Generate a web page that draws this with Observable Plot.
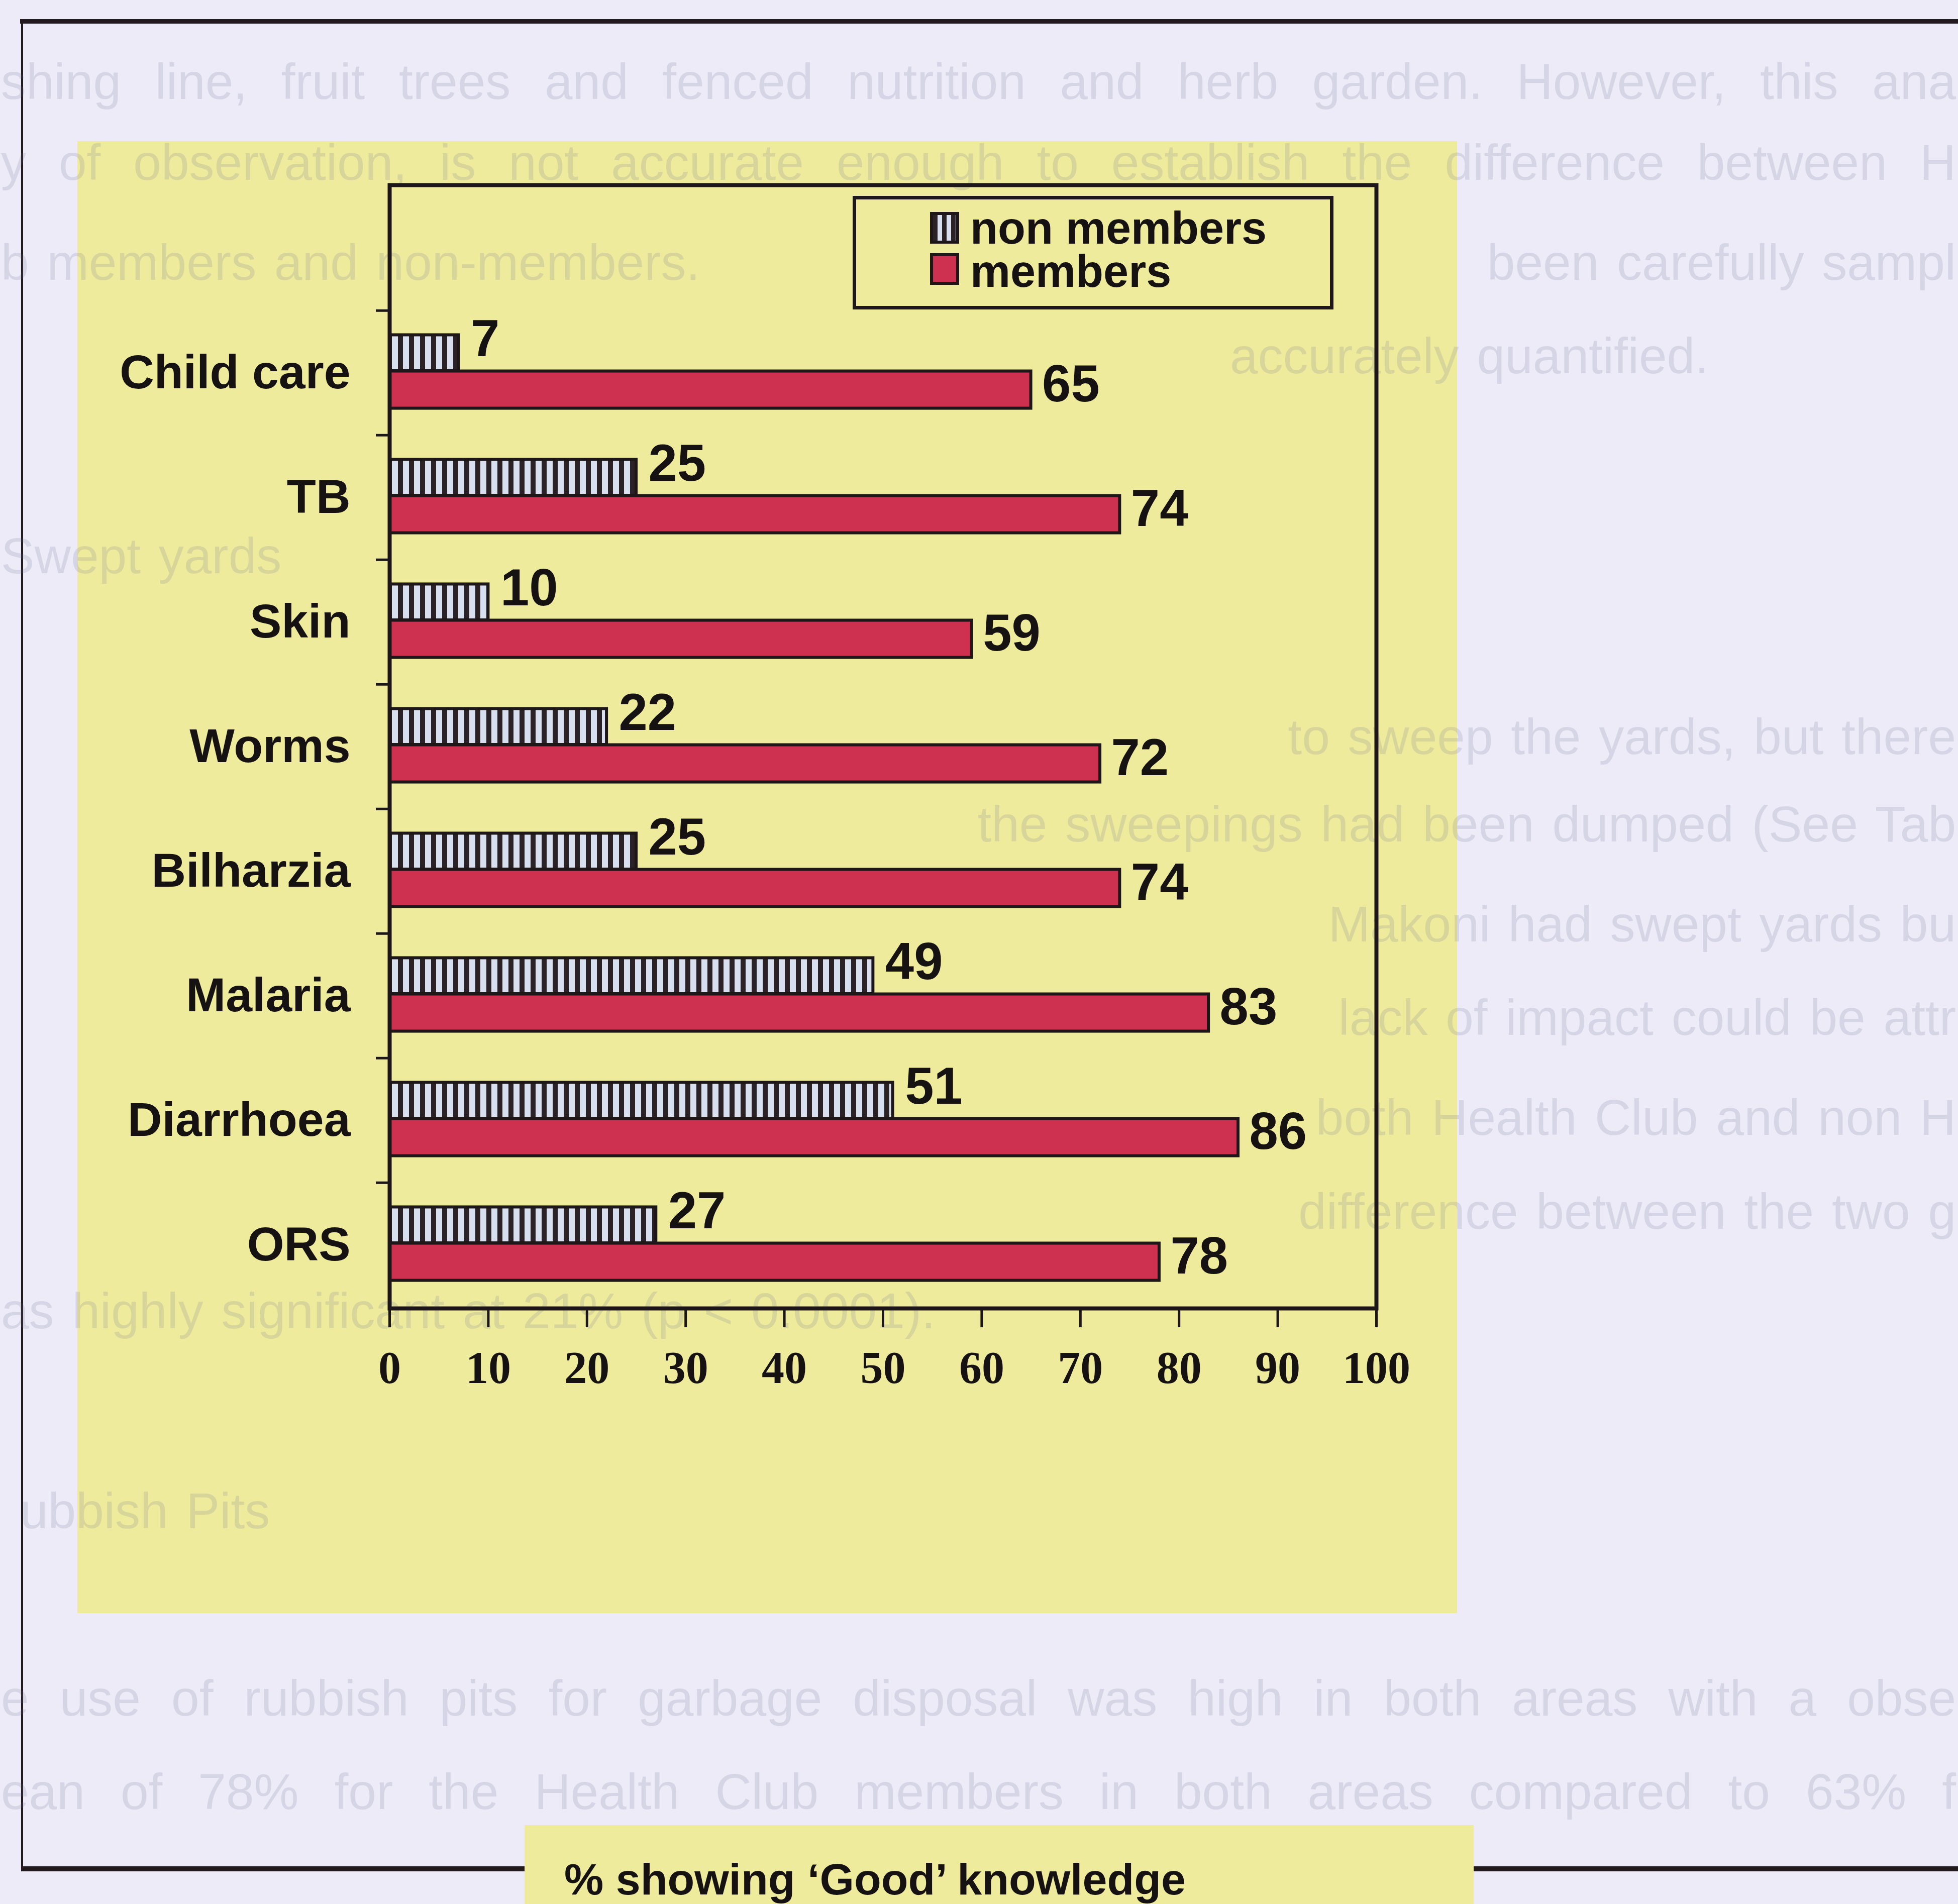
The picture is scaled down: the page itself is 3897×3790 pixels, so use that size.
<!DOCTYPE html>
<html>
<head>
<meta charset="utf-8">
<script src="https://cdn.jsdelivr.net/npm/d3@7"></script>
<script src="https://cdn.jsdelivr.net/npm/@observablehq/plot@0.6"></script>
<style>
  html, body { margin: 0; padding: 0; background: #ECEBF7; }
  #page { position: relative; width: 3897px; height: 3790px; overflow: hidden; background: #ECEBF7;
          font-family: "Liberation Sans", Arial, sans-serif; }
  .line { position: absolute; background: #221A1C; }
  .yellow { position: absolute; background: #EEEB9D; }
  #bg div { position: absolute; white-space: nowrap; font-size: 100px; line-height: 100px;
            word-spacing: 8px; color: rgba(105, 105, 140, 0.17); }
  #chart { position: absolute; left: 0; top: 0; }
  #legend { position: absolute; left: 1697px; top: 390px; width: 957px; height: 226px;
            box-sizing: border-box; border: 7px solid #1E1719; }
  .sw { position: absolute; width: 58px; height: 63px; box-sizing: border-box; border: 6px solid #1E1719; }
  .lt { position: absolute; font-weight: bold; font-size: 90px; line-height: 80px; color: #161212; white-space: nowrap; }
  #caption { position: absolute; left: 1123px; top: 3696px; font-weight: bold; font-size: 88px;
             line-height: 90px; color: #161212; white-space: nowrap; }
</style>
</head>
<body>
<div id="page">
  <div class="line" style="left:40px;top:38px;width:3857px;height:9px;"></div>
  <div class="line" style="left:42px;top:38px;width:4px;height:3686px;"></div>
  <div class="line" style="left:42px;top:3715px;width:3855px;height:10px;"></div>
  <div class="yellow" style="left:154px;top:281px;width:2746px;height:2930px;"></div>
  <div class="yellow" style="left:1044px;top:3633px;width:1889px;height:157px;"></div>
  <div id="bg"></div>
  <div id="chart"></div>
  <div id="legend"></div>
  <div id="caption"></div>
</div>
<script>
// ---- chart data ----
const categories = ["Child care", "TB", "Skin", "Worms", "Bilharzia", "Malaria", "Diarrhoea", "ORS"];
const nonMembers = [7, 25, 10, 22, 25, 49, 51, 27];
const members = [65, 74, 59, 72, 74, 83, 86, 78];
const xTicks = [0, 10, 20, 30, 40, 50, 60, 70, 80, 90, 100];
const seriesNames = ["non members", "members"];
const captionText = "% showing \u2018Good\u2019 knowledge";

// ---- faint show-through text of the scanned page (fragments that are visible) ----
const bgText = [
  "shing line, fruit trees and fenced nutrition and herb garden. However, this ana",
  "y of observation, is not accurate enough to establish the difference between H",
  "b members and non-members.",
  "been carefully sampl",
  "accurately quantified.",
  "Swept yards",
  "to sweep the yards, but there",
  "the sweepings had been dumped (See Tab",
  "Makoni had swept yards bu",
  "lack of impact could be attr",
  "both Health Club and non H",
  "difference between the two g",
  "as highly significant at 21% (p < 0.0001).",
  "ubbish Pits",
  "e use of rubbish pits for garbage disposal was high in both areas with a obse",
  "ean of 78% for the Health Club members in both areas compared to 63% f"
];
const bgY = [162, 323, 522, 522, 708, 1106, 1466, 1640, 1839, 2025, 2224, 2411, 2609, 3007, 3380, 3566];
const bgMode = ["justify", "justify", "left", "right", "left", "left", "right", "right", "right", "right",
                "right", "right", "left", "left", "justify", "justify"];
const bgLeft = [2, 2, 2, null, 2448, 2, null, null, null, null, null, null, 2, 40, 2, 2];

const bg = document.getElementById("bg");
bgText.forEach((t, i) => {
  const d = document.createElement("div");
  d.textContent = t;
  d.style.top = (bgY[i] - 50) + "px";
  if (bgMode[i] === "justify") {
    d.style.left = bgLeft[i] + "px";
    d.style.width = (3893 - bgLeft[i]) + "px";
    d.style.whiteSpace = "normal";
    d.style.height = "100px";
    d.style.textAlign = "justify";
    d.style.textAlignLast = "justify";
    d.style.wordSpacing = "0px";
  } else if (bgMode[i] === "right") {
    d.style.right = "4px";
    d.style.textAlign = "right";
  } else {
    d.style.left = bgLeft[i] + "px";
  }
  bg.appendChild(d);
});

const rows = categories.map((c, i) => ({category: c, nonMembers: nonMembers[i], members: members[i]}));

// ---- layout ----
const W = 3897, H = 3790;
const plotLeft = 775, plotRight = 2739, plotTop = 368, bandTop = 616, plotBottom = 2604;
const bw = (plotBottom - bandTop) / categories.length;
const ink = "#1E1719", textInk = "#161212", red = "#CE3050";

const svg = Plot.plot({
  width: W,
  height: H,
  marginLeft: plotLeft,
  marginRight: W - plotRight,
  marginTop: plotTop,
  marginBottom: H - plotBottom,
  style: {background: "transparent", fontFamily: "Liberation Sans, Arial, sans-serif", overflow: "visible"},
  x: {domain: [0, 100]},
  y: {domain: categories, range: [bandTop, plotBottom], padding: 0},
  marks: [
    Plot.barX(rows, {
      y: "category", x: "nonMembers", fill: "url(#stripes)", stroke: ink, strokeWidth: 6,
      insetTop: 0.195 * bw, insetBottom: bw - 0.485 * bw
    }),
    Plot.barX(rows, {
      y: "category", x: "members", fill: red, stroke: ink, strokeWidth: 6,
      insetTop: 0.485 * bw, insetBottom: bw - 0.785 * bw
    }),
    Plot.text(rows, {
      y: "category", x: "nonMembers", text: d => String(d.nonMembers), textAnchor: "start",
      dx: 24, dy: -66, fontSize: 103, fontWeight: "bold", fill: textInk
    }),
    Plot.text(rows, {
      y: "category", x: "members", text: d => String(d.members), textAnchor: "start",
      dx: 22, dy: 24, fontSize: 103, fontWeight: "bold", fill: textInk
    }),
    Plot.frame({stroke: ink, strokeWidth: 8}),
    Plot.axisY({tickSize: 0, tickPadding: 78, fontSize: 95, fontWeight: "bold", fill: textInk, label: null}),
    Plot.axisY({tickSize: 27, strokeWidth: 5, stroke: ink, fill: "none", dy: -bw / 2, label: null}),
    Plot.axisX(xTicks, {
      tickSize: 38, tickPadding: 47, strokeWidth: 5, stroke: ink,
      fontFamily: "Liberation Serif, Times New Roman, serif", fontSize: 90, fontWeight: "bold",
      fill: textInk, label: null
    })
  ]
});

// stripe pattern for "non members"
const defs = d3.select(svg).insert("defs", ":first-child");
const pat = defs.append("pattern").attr("id", "stripes").attr("patternUnits", "userSpaceOnUse")
  .attr("width", 22).attr("height", 22);
pat.append("rect").attr("width", 22).attr("height", 22).attr("fill", "#D8E0F0");
pat.append("rect").attr("width", 10).attr("height", 22).attr("fill", "#2A2225");

svg.style.position = "absolute";
svg.style.left = "0px";
svg.style.top = "0px";
svg.style.maxWidth = "none";
document.getElementById("chart").appendChild(svg);

// ---- legend (inside the frame, as in the original) ----
const legend = document.getElementById("legend");
const swFill = [
  "repeating-linear-gradient(90deg, #2A2225 0 9px, #D8E0F0 9px 18px)",
  red
];
const swTop = [25, 107];
const textCenter = [57, 143];
seriesNames.forEach((name, i) => {
  const s = document.createElement("div");
  s.className = "sw";
  s.style.left = (1851 - 1697 - 7) + "px";
  s.style.top = swTop[i] + "px";
  s.style.background = swFill[i];
  legend.appendChild(s);
  const t = document.createElement("div");
  t.className = "lt";
  t.textContent = name;
  t.style.left = (1931 - 1697 - 7) + "px";
  t.style.top = (textCenter[i] - 40) + "px";
  legend.appendChild(t);
});

document.getElementById("caption").textContent = captionText;
</script>
</body>
</html>
